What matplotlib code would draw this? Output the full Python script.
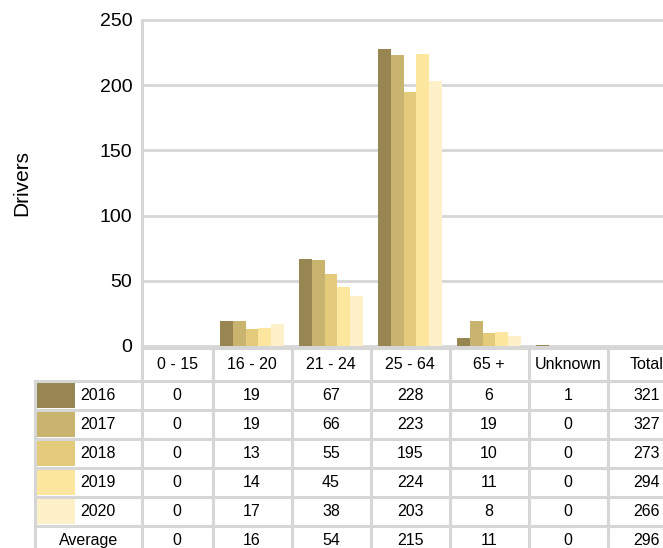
import matplotlib.pyplot as plt
from matplotlib.patches import Rectangle

plt.rcParams['font.family'] = ['Liberation Sans', 'DejaVu Sans']

categories = ['0 - 15', '16 - 20', '21 - 24', '25 - 64', '65 +', 'Unknown', 'Total']
years = ['2016', '2017', '2018', '2019', '2020']
drivers = {
    '2016': [0, 19, 67, 228, 6, 1, 321],
    '2017': [0, 19, 66, 223, 19, 0, 327],
    '2018': [0, 13, 55, 195, 10, 0, 273],
    '2019': [0, 14, 45, 224, 11, 0, 294],
    '2020': [0, 17, 38, 203, 8, 0, 266],
}
average = [0, 16, 54, 215, 11, 0, 296]
colors = ['#978651', '#c9b46f', '#e4ca7b', '#fde69d', '#fef1c9']

W, H = 663, 548
GRID = '#d6d6d6'
# pixel -> category unit mapping (category i centred at 173 + 79 * i px)
X0, DX = 173, 79
cx = lambda px: (px - X0) / DX

fig = plt.figure(figsize=(W / 100, H / 100), dpi=100)

# ---- bar chart ----
ax = fig.add_axes([142 / W, (H - 346) / H, 1 - 142 / W, 326 / H])
n = len(years)
bw = 0.162
for k, yr in enumerate(years):
    xs = [i + (k - (n - 1) / 2) * bw for i in range(len(categories) - 1)]
    ax.bar(xs, drivers[yr][:-1], width=bw, color=colors[k], linewidth=0, zorder=3)

ax.set_xlim(cx(142), cx(W))
ax.set_ylim(0, 250)
ax.set_yticks([0, 50, 100, 150, 200, 250])
ax.set_xticks([])
ax.tick_params(axis='y', length=0, pad=7, labelsize=14)
ax.yaxis.grid(True, color=GRID, linewidth=2, clip_on=False)
ax.set_axisbelow(True)
for s in ['top', 'right', 'bottom']:
    ax.spines[s].set_visible(False)
ax.spines['left'].set_color(GRID)
ax.spines['left'].set_linewidth(2.2)
ax.set_ylabel('Drivers', fontsize=15, va='center')
ax.yaxis.set_label_coords(22 / W, (H - 183) / H, transform=fig.transFigure)

# ---- data table ----
tab = fig.add_axes([0, 0, 1, 200 / H])
rh = 29
ytop = (348 - 381) / rh
tab.set_xlim(cx(0), cx(W))
tab.set_ylim((548 - 381) / rh, ytop)
tab.axis('off')

lw = 2.2
xl = cx(35)
xa = cx(142)
xr = cx(W + 5)
nrows = n + 1
# horizontal borders
tab.plot([xa, xr], [ytop, ytop], color=GRID, lw=lw, clip_on=False)
for r in range(nrows):
    tab.plot([xl, xr], [r, r], color=GRID, lw=lw, clip_on=False)
# vertical borders
tab.plot([xl, xl], [0, nrows + 1], color=GRID, lw=lw, clip_on=False)
tab.plot([xa, xa], [ytop, nrows + 1], color=GRID, lw=lw, clip_on=False)
for i in range(len(categories) - 1):
    tab.plot([i + 0.5, i + 0.5], [ytop, nrows + 1], color=GRID, lw=lw, clip_on=False)

fs = 11.5
first = (xa + 0.5) / 2
for i, c in enumerate(categories):
    tab.text(first if i == 0 else i, ytop / 2, c, ha='center', va='center', fontsize=fs)

sw = (75 - 37) / DX
for k, yr in enumerate(years):
    tab.add_patch(Rectangle((cx(37), k + 0.07), sw, 0.86, color=colors[k], lw=0))
    tab.text(cx(80), k + 0.5, yr, ha='left', va='center', fontsize=fs)
    for i, v in enumerate(drivers[yr]):
        tab.text(first if i == 0 else i, k + 0.5, str(v), ha='center', va='center', fontsize=fs)

tab.text(cx(89), n + 0.5, 'Average', ha='center', va='center', fontsize=fs)
for i, v in enumerate(average):
    tab.text(first if i == 0 else i, n + 0.5, str(v), ha='center', va='center', fontsize=fs)

fig.savefig('out.png', dpi=100)
